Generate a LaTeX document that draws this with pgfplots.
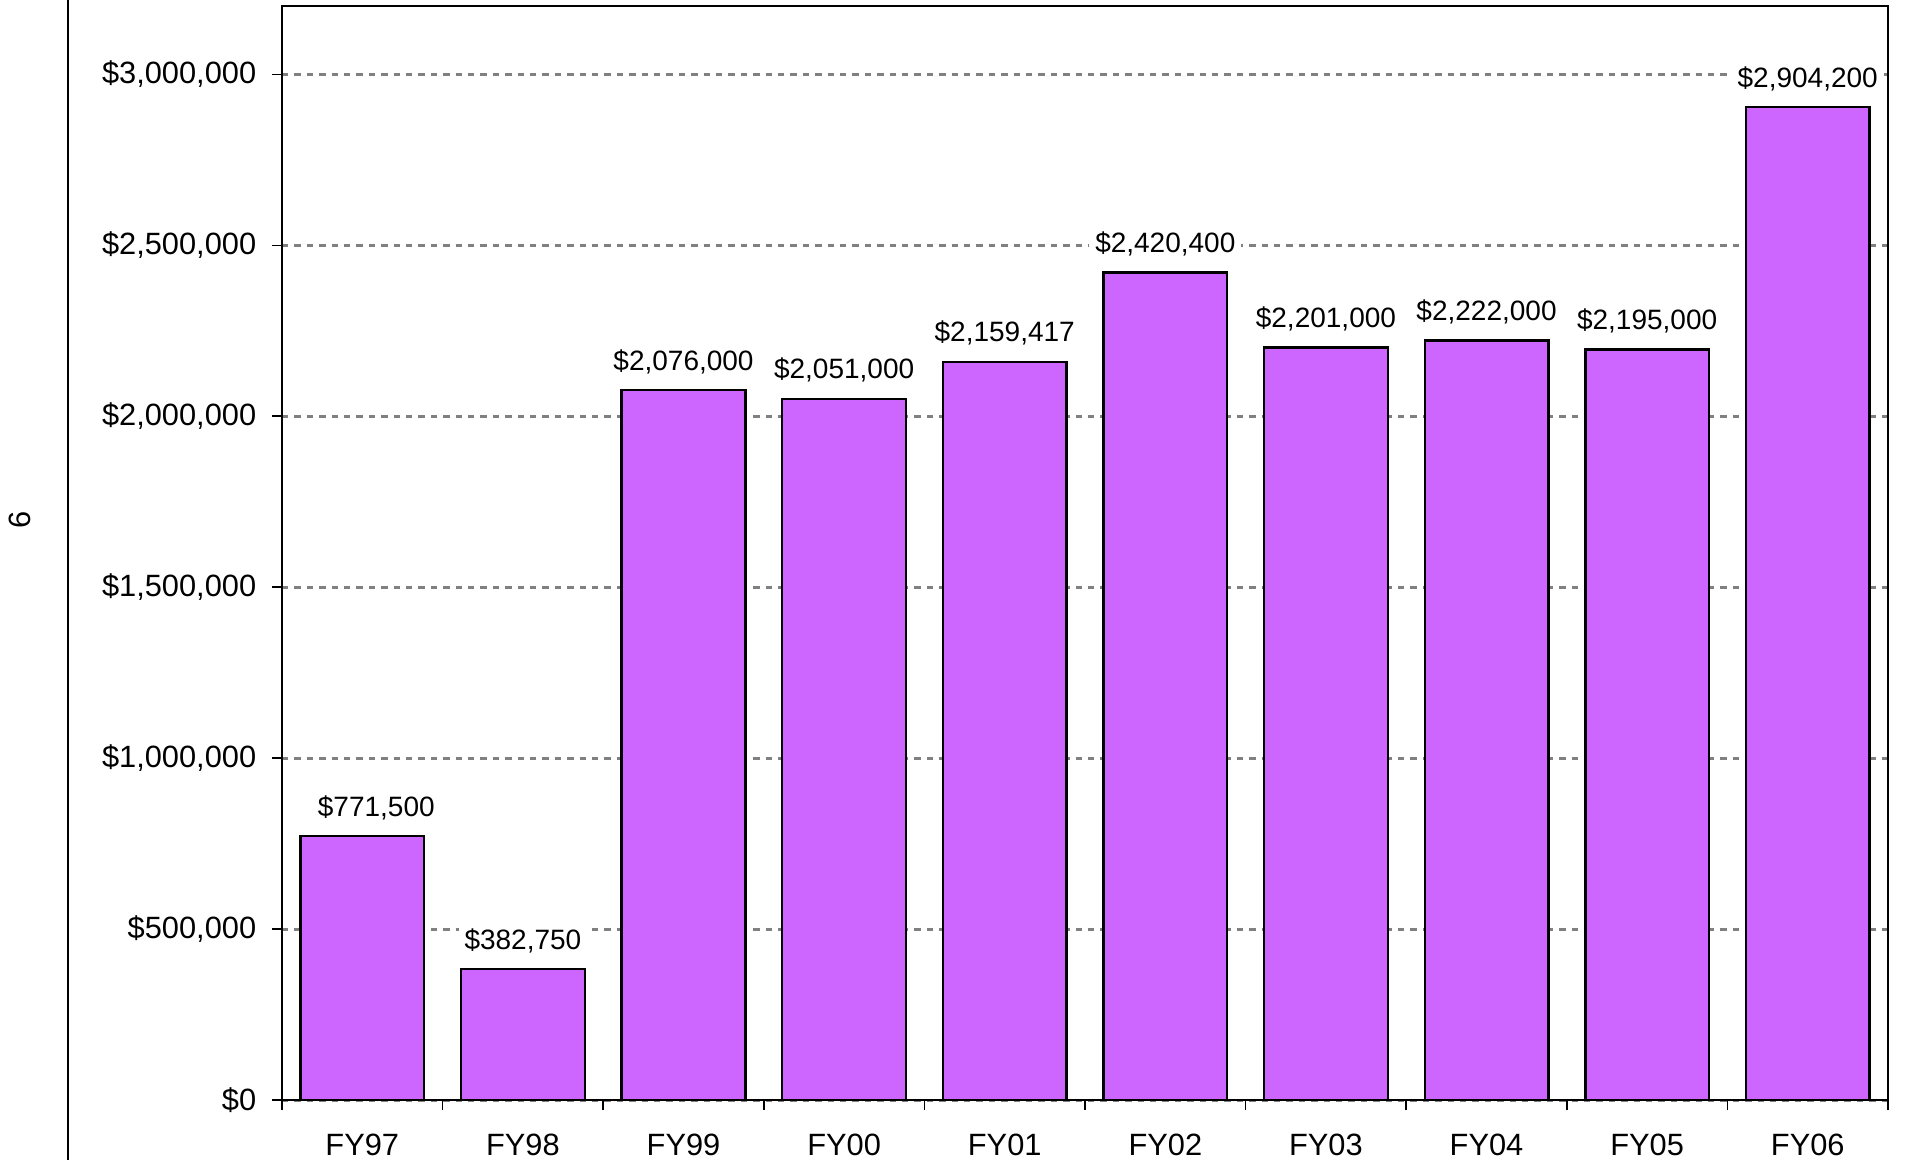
\documentclass[border=0pt]{standalone}
\usepackage{fontspec}
\setmainfont{Liberation Sans}
\usepackage{pgfplots}
\pgfplotsset{compat=1.18}
\definecolor{barpurple}{RGB}{204,102,255}
\definecolor{gridgray}{RGB}{128,128,128}
\begin{document}
\begin{tikzpicture}
\begin{axis}[
  at={(0pt,0pt)}, anchor=south west,
  scale only axis, width=401.5pt, height=273.5pt,
  xmin=-0.5, xmax=9.5, ymin=0, ymax=3200000,
  axis line style={line width=0.5pt},
  xtick={-0.5,0.5,...,9.5},
  x tick label as interval,
  xticklabels={FY97,FY98,FY99,FY00,FY01,FY02,FY03,FY04,FY05,FY06},
  ytick={0,500000,1000000,1500000,2000000,2500000,3000000},
  yticklabels={{\$0},{\$500,000},{\$1,000,000},{\$1,500,000},{\$2,000,000},{\$2,500,000},{\$3,000,000}},
  tick align=outside, major tick length=2.5pt,
  tick style={black, line width=0.4pt},
  xtick pos=left, ytick pos=left,
  ymajorgrids, grid style={gridgray, line width=0.75pt, dash pattern=on 1.6pt off 1.5pt},
  scaled y ticks=false,
  ticklabel style={font=\fontsize{7.7}{9}\selectfont},
  yticklabel style={inner sep=0pt, xshift=-3.75pt},
  xticklabel style={inner sep=0pt, anchor=north, yshift=-5.75pt},
  ybar, bar width=0.77, bar shift=0pt,
  nodes near coords={\$\pgfplotspointmeta},
  point meta=explicit symbolic,
  every node near coord/.append style={font=\fontsize{7}{8.5}\selectfont, fill=white, inner xsep=1.5pt, inner ysep=1pt, anchor=base, yshift=5pt},
]
\addplot[fill=barpurple, draw=black, line width=0.6pt,
  every node near coord/.append style={xshift=3.5pt}] table[x=x, y=y, meta=label] {
x y label
0 771500 771,500
};
\addplot[fill=barpurple, draw=black, line width=0.6pt] table[x=x, y=y, meta=label] {
x y label
1 382750 382,750
2 2076000 2,076,000
3 2051000 2,051,000
4 2159417 2,159,417
5 2420400 2,420,400
6 2201000 2,201,000
7 2222000 2,222,000
8 2195000 2,195,000
9 2904200 2,904,200
};
\end{axis}
\draw[line width=0.5pt] (-53.5pt,-15pt) -- (-53.5pt,275pt);
\node[rotate=90, font=\fontsize{7.7}{9}\selectfont, inner sep=0pt] at (-65.5pt,145pt) {6};
\pgfresetboundingbox
\useasboundingbox (-70.5pt,-15pt) rectangle (407.75pt,275pt);
\end{tikzpicture}
\end{document}
